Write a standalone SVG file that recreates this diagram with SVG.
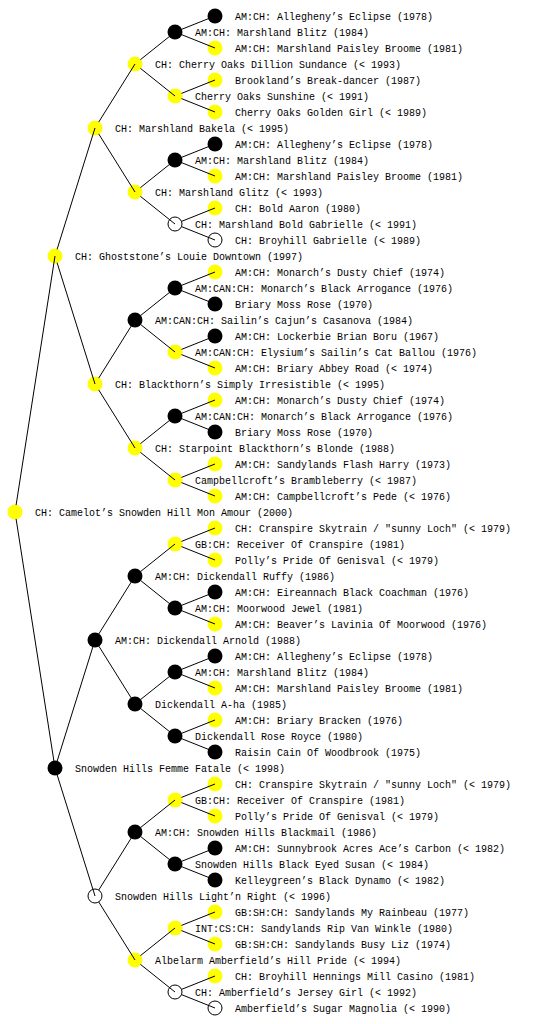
<svg xmlns="http://www.w3.org/2000/svg" width="560" height="1024" viewBox="0 0 560 1024">
<style>
.y{fill:#ffff00;stroke:none}
.b{fill:#000;stroke:none}
.o{fill:#fff;stroke:#000;stroke-width:1}
.t{font-family:"Liberation Mono","DejaVu Sans Mono",monospace;font-size:10px;fill:#000}
.c line{stroke:#000;stroke-width:1;stroke-dasharray:0 7 1000 0}
</style>
<rect width="560" height="1024" fill="#fff"/>
<g id="nodes">
<g id="n1"><circle class="b" cx="215" cy="16" r="7.5"/><text class="t" x="235" y="20">AM:CH: Allegheny’s Eclipse (1978)</text></g>
<g id="n2"><circle class="b" cx="175" cy="32" r="7.5"/><text class="t" x="195" y="36">AM:CH: Marshland Blitz (1984)</text></g>
<g id="n3"><circle class="y" cx="215" cy="48" r="7.5"/><text class="t" x="235" y="52">AM:CH: Marshland Paisley Broome (1981)</text></g>
<g id="n4"><circle class="y" cx="135" cy="64" r="7.5"/><text class="t" x="155" y="68">CH: Cherry Oaks Dillion Sundance (&lt; 1993)</text></g>
<g id="n5"><circle class="y" cx="215" cy="80" r="7.5"/><text class="t" x="235" y="84">Brookland’s Break-dancer (1987)</text></g>
<g id="n6"><circle class="y" cx="175" cy="96" r="7.5"/><text class="t" x="195" y="100">Cherry Oaks Sunshine (&lt; 1991)</text></g>
<g id="n7"><circle class="y" cx="215" cy="112" r="7.5"/><text class="t" x="235" y="116">Cherry Oaks Golden Girl (&lt; 1989)</text></g>
<g id="n8"><circle class="y" cx="95" cy="128" r="7.5"/><text class="t" x="115" y="132">CH: Marshland Bakela (&lt; 1995)</text></g>
<g id="n9"><circle class="b" cx="215" cy="144" r="7.5"/><text class="t" x="235" y="148">AM:CH: Allegheny’s Eclipse (1978)</text></g>
<g id="n10"><circle class="b" cx="175" cy="160" r="7.5"/><text class="t" x="195" y="164">AM:CH: Marshland Blitz (1984)</text></g>
<g id="n11"><circle class="y" cx="215" cy="176" r="7.5"/><text class="t" x="235" y="180">AM:CH: Marshland Paisley Broome (1981)</text></g>
<g id="n12"><circle class="y" cx="135" cy="192" r="7.5"/><text class="t" x="155" y="196">CH: Marshland Glitz (&lt; 1993)</text></g>
<g id="n13"><circle class="y" cx="215" cy="208" r="7.5"/><text class="t" x="235" y="212">CH: Bold Aaron (1980)</text></g>
<g id="n14"><circle class="o" cx="175" cy="224" r="7"/><text class="t" x="195" y="228">CH: Marshland Bold Gabrielle (&lt; 1991)</text></g>
<g id="n15"><circle class="o" cx="215" cy="240" r="7"/><text class="t" x="235" y="244">CH: Broyhill Gabrielle (&lt; 1989)</text></g>
<g id="n16"><circle class="y" cx="55" cy="256" r="7.5"/><text class="t" x="75" y="260">CH: Ghoststone’s Louie Downtown (1997)</text></g>
<g id="n17"><circle class="y" cx="215" cy="272" r="7.5"/><text class="t" x="235" y="276">AM:CH: Monarch’s Dusty Chief (1974)</text></g>
<g id="n18"><circle class="b" cx="175" cy="288" r="7.5"/><text class="t" x="195" y="292">AM:CAN:CH: Monarch’s Black Arrogance (1976)</text></g>
<g id="n19"><circle class="b" cx="215" cy="304" r="7.5"/><text class="t" x="235" y="308">Briary Moss Rose (1970)</text></g>
<g id="n20"><circle class="b" cx="135" cy="320" r="7.5"/><text class="t" x="155" y="324">AM:CAN:CH: Sailin’s Cajun’s Casanova (1984)</text></g>
<g id="n21"><circle class="b" cx="215" cy="336" r="7.5"/><text class="t" x="235" y="340">AM:CH: Lockerbie Brian Boru (1967)</text></g>
<g id="n22"><circle class="y" cx="175" cy="352" r="7.5"/><text class="t" x="195" y="356">AM:CAN:CH: Elysium’s Sailin’s Cat Ballou (1976)</text></g>
<g id="n23"><circle class="y" cx="215" cy="368" r="7.5"/><text class="t" x="235" y="372">AM:CH: Briary Abbey Road (&lt; 1974)</text></g>
<g id="n24"><circle class="y" cx="95" cy="384" r="7.5"/><text class="t" x="115" y="388">CH: Blackthorn’s Simply Irresistible (&lt; 1995)</text></g>
<g id="n25"><circle class="y" cx="215" cy="400" r="7.5"/><text class="t" x="235" y="404">AM:CH: Monarch’s Dusty Chief (1974)</text></g>
<g id="n26"><circle class="b" cx="175" cy="416" r="7.5"/><text class="t" x="195" y="420">AM:CAN:CH: Monarch’s Black Arrogance (1976)</text></g>
<g id="n27"><circle class="b" cx="215" cy="432" r="7.5"/><text class="t" x="235" y="436">Briary Moss Rose (1970)</text></g>
<g id="n28"><circle class="y" cx="135" cy="448" r="7.5"/><text class="t" x="155" y="452">CH: Starpoint Blackthorn’s Blonde (1988)</text></g>
<g id="n29"><circle class="y" cx="215" cy="464" r="7.5"/><text class="t" x="235" y="468">AM:CH: Sandylands Flash Harry (1973)</text></g>
<g id="n30"><circle class="y" cx="175" cy="480" r="7.5"/><text class="t" x="195" y="484">Campbellcroft’s Brambleberry (&lt; 1987)</text></g>
<g id="n31"><circle class="y" cx="215" cy="496" r="7.5"/><text class="t" x="235" y="500">AM:CH: Campbellcroft’s Pede (&lt; 1976)</text></g>
<g id="n32"><circle class="y" cx="15" cy="512" r="7.5"/><text class="t" x="35" y="516">CH: Camelot’s Snowden Hill Mon Amour (2000)</text></g>
<g id="n33"><circle class="y" cx="215" cy="528" r="7.5"/><text class="t" x="235" y="532">CH: Cranspire Skytrain / "sunny Loch" (&lt; 1979)</text></g>
<g id="n34"><circle class="y" cx="175" cy="544" r="7.5"/><text class="t" x="195" y="548">GB:CH: Receiver Of Cranspire (1981)</text></g>
<g id="n35"><circle class="y" cx="215" cy="560" r="7.5"/><text class="t" x="235" y="564">Polly’s Pride Of Genisval (&lt; 1979)</text></g>
<g id="n36"><circle class="b" cx="135" cy="576" r="7.5"/><text class="t" x="155" y="580">AM:CH: Dickendall Ruffy (1986)</text></g>
<g id="n37"><circle class="b" cx="215" cy="592" r="7.5"/><text class="t" x="235" y="596">AM:CH: Eireannach Black Coachman (1976)</text></g>
<g id="n38"><circle class="b" cx="175" cy="608" r="7.5"/><text class="t" x="195" y="612">AM:CH: Moorwood Jewel (1981)</text></g>
<g id="n39"><circle class="y" cx="215" cy="624" r="7.5"/><text class="t" x="235" y="628">AM:CH: Beaver’s Lavinia Of Moorwood (1976)</text></g>
<g id="n40"><circle class="b" cx="95" cy="640" r="7.5"/><text class="t" x="115" y="644">AM:CH: Dickendall Arnold (1988)</text></g>
<g id="n41"><circle class="b" cx="215" cy="656" r="7.5"/><text class="t" x="235" y="660">AM:CH: Allegheny’s Eclipse (1978)</text></g>
<g id="n42"><circle class="b" cx="175" cy="672" r="7.5"/><text class="t" x="195" y="676">AM:CH: Marshland Blitz (1984)</text></g>
<g id="n43"><circle class="y" cx="215" cy="688" r="7.5"/><text class="t" x="235" y="692">AM:CH: Marshland Paisley Broome (1981)</text></g>
<g id="n44"><circle class="b" cx="135" cy="704" r="7.5"/><text class="t" x="155" y="708">Dickendall A-ha (1985)</text></g>
<g id="n45"><circle class="y" cx="215" cy="720" r="7.5"/><text class="t" x="235" y="724">AM:CH: Briary Bracken (1976)</text></g>
<g id="n46"><circle class="b" cx="175" cy="736" r="7.5"/><text class="t" x="195" y="740">Dickendall Rose Royce (1980)</text></g>
<g id="n47"><circle class="b" cx="215" cy="752" r="7.5"/><text class="t" x="235" y="756">Raisin Cain Of Woodbrook (1975)</text></g>
<g id="n48"><circle class="b" cx="55" cy="768" r="7.5"/><text class="t" x="75" y="772">Snowden Hills Femme Fatale (&lt; 1998)</text></g>
<g id="n49"><circle class="y" cx="215" cy="784" r="7.5"/><text class="t" x="235" y="788">CH: Cranspire Skytrain / "sunny Loch" (&lt; 1979)</text></g>
<g id="n50"><circle class="y" cx="175" cy="800" r="7.5"/><text class="t" x="195" y="804">GB:CH: Receiver Of Cranspire (1981)</text></g>
<g id="n51"><circle class="y" cx="215" cy="816" r="7.5"/><text class="t" x="235" y="820">Polly’s Pride Of Genisval (&lt; 1979)</text></g>
<g id="n52"><circle class="b" cx="135" cy="832" r="7.5"/><text class="t" x="155" y="836">AM:CH: Snowden Hills Blackmail (1986)</text></g>
<g id="n53"><circle class="b" cx="215" cy="848" r="7.5"/><text class="t" x="235" y="852">AM:CH: Sunnybrook Acres Ace’s Carbon (&lt; 1982)</text></g>
<g id="n54"><circle class="b" cx="175" cy="864" r="7.5"/><text class="t" x="195" y="868">Snowden Hills Black Eyed Susan (&lt; 1984)</text></g>
<g id="n55"><circle class="b" cx="215" cy="880" r="7.5"/><text class="t" x="235" y="884">Kelleygreen’s Black Dynamo (&lt; 1982)</text></g>
<g id="n56"><circle class="o" cx="95" cy="896" r="7"/><text class="t" x="115" y="900">Snowden Hills Light’n Right (&lt; 1996)</text></g>
<g id="n57"><circle class="y" cx="215" cy="912" r="7.5"/><text class="t" x="235" y="916">GB:SH:CH: Sandylands My Rainbeau (1977)</text></g>
<g id="n58"><circle class="y" cx="175" cy="928" r="7.5"/><text class="t" x="195" y="932">INT:CS:CH: Sandylands Rip Van Winkle (1980)</text></g>
<g id="n59"><circle class="y" cx="215" cy="944" r="7.5"/><text class="t" x="235" y="948">GB:SH:CH: Sandylands Busy Liz (1974)</text></g>
<g id="n60"><circle class="y" cx="135" cy="960" r="7.5"/><text class="t" x="155" y="964">Albelarm Amberfield’s Hill Pride (&lt; 1994)</text></g>
<g id="n61"><circle class="y" cx="215" cy="976" r="7.5"/><text class="t" x="235" y="980">CH: Broyhill Hennings Mill Casino (1981)</text></g>
<g id="n62"><circle class="o" cx="175" cy="992" r="7"/><text class="t" x="195" y="996">CH: Amberfield’s Jersey Girl (&lt; 1992)</text></g>
<g id="n63"><circle class="o" cx="215" cy="1008" r="7"/><text class="t" x="235" y="1012">Amberfield’s Sugar Magnolia (&lt; 1990)</text></g>
</g>
<g id="connectors" class="c">
<line x1="15" y1="512" x2="55" y2="256"/><line x1="15" y1="512" x2="55" y2="768"/>
<line x1="55" y1="256" x2="95" y2="128"/><line x1="55" y1="256" x2="95" y2="384"/>
<line x1="55" y1="768" x2="95" y2="640"/><line x1="55" y1="768" x2="95" y2="896"/>
<line x1="95" y1="128" x2="135" y2="64"/><line x1="95" y1="128" x2="135" y2="192"/>
<line x1="95" y1="384" x2="135" y2="320"/><line x1="95" y1="384" x2="135" y2="448"/>
<line x1="95" y1="640" x2="135" y2="576"/><line x1="95" y1="640" x2="135" y2="704"/>
<line x1="95" y1="896" x2="135" y2="832"/><line x1="95" y1="896" x2="135" y2="960"/>
<line x1="135" y1="64" x2="175" y2="32"/><line x1="135" y1="64" x2="175" y2="96"/>
<line x1="135" y1="192" x2="175" y2="160"/><line x1="135" y1="192" x2="175" y2="224"/>
<line x1="135" y1="320" x2="175" y2="288"/><line x1="135" y1="320" x2="175" y2="352"/>
<line x1="135" y1="448" x2="175" y2="416"/><line x1="135" y1="448" x2="175" y2="480"/>
<line x1="135" y1="576" x2="175" y2="544"/><line x1="135" y1="576" x2="175" y2="608"/>
<line x1="135" y1="704" x2="175" y2="672"/><line x1="135" y1="704" x2="175" y2="736"/>
<line x1="135" y1="832" x2="175" y2="800"/><line x1="135" y1="832" x2="175" y2="864"/>
<line x1="135" y1="960" x2="175" y2="928"/><line x1="135" y1="960" x2="175" y2="992"/>
<line x1="175" y1="32" x2="215" y2="16"/><line x1="175" y1="32" x2="215" y2="48"/>
<line x1="175" y1="96" x2="215" y2="80"/><line x1="175" y1="96" x2="215" y2="112"/>
<line x1="175" y1="160" x2="215" y2="144"/><line x1="175" y1="160" x2="215" y2="176"/>
<line x1="175" y1="224" x2="215" y2="208"/><line x1="175" y1="224" x2="215" y2="240"/>
<line x1="175" y1="288" x2="215" y2="272"/><line x1="175" y1="288" x2="215" y2="304"/>
<line x1="175" y1="352" x2="215" y2="336"/><line x1="175" y1="352" x2="215" y2="368"/>
<line x1="175" y1="416" x2="215" y2="400"/><line x1="175" y1="416" x2="215" y2="432"/>
<line x1="175" y1="480" x2="215" y2="464"/><line x1="175" y1="480" x2="215" y2="496"/>
<line x1="175" y1="544" x2="215" y2="528"/><line x1="175" y1="544" x2="215" y2="560"/>
<line x1="175" y1="608" x2="215" y2="592"/><line x1="175" y1="608" x2="215" y2="624"/>
<line x1="175" y1="672" x2="215" y2="656"/><line x1="175" y1="672" x2="215" y2="688"/>
<line x1="175" y1="736" x2="215" y2="720"/><line x1="175" y1="736" x2="215" y2="752"/>
<line x1="175" y1="800" x2="215" y2="784"/><line x1="175" y1="800" x2="215" y2="816"/>
<line x1="175" y1="864" x2="215" y2="848"/><line x1="175" y1="864" x2="215" y2="880"/>
<line x1="175" y1="928" x2="215" y2="912"/><line x1="175" y1="928" x2="215" y2="944"/>
<line x1="175" y1="992" x2="215" y2="976"/><line x1="175" y1="992" x2="215" y2="1008"/>
</g>
</svg>
